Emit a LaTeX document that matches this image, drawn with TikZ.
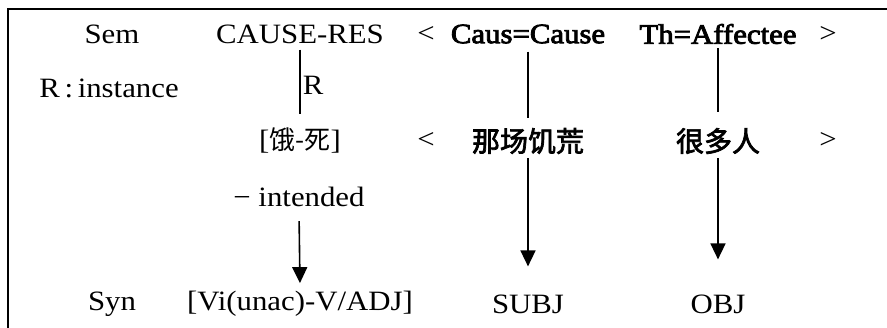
\documentclass[tikz,border=0pt]{standalone}
\usepackage{fontspec}
\setmainfont[FakeStretch=1.1]{Liberation Serif}
\newfontfamily\cjk{Noto Sans CJK SC}
\usepackage{tikz}
\usetikzlibrary{arrows.meta}

\tikzstyle{word} = [draw=none, fill=none, inner sep=4pt, font=\fontsize{28}{30}\selectfont]
\tikzstyle{role} = [word, font=\fontsize{28}{30}\selectfont\addfontfeature{FakeBold=3}]
\tikzstyle{han} = [word, font=\fontsize{28}{30}\selectfont\cjk\addfontfeature{FakeBold=2.5}]
\tikzstyle{hanlight} = [word, font=\fontsize{26}{28}\selectfont\cjk]
\tikzstyle{link} = [line width=1.6pt]
\tikzstyle{map} = [line width=1.6pt, -{Triangle[width=15pt,length=16pt]}]

\begin{document}
\begin{tikzpicture}[x=1pt, y=-1pt]
\useasboundingbox (0,0) rectangle (887,327);

% frame, open on the right and at the bottom
\draw[line width=2.4pt] (8,340) -- (8,9) -- (900,9);

% semantic row
\node[word] (sem) at (112,34) {Sem};
\node[word] (cause) at (300,34) {CAUSE-RES};
\node[word] (lt1) at (426,34) {<};
\node[role] (caus) at (528,34) {Caus=Cause};
\node[role] (th) at (718,34) {Th=Affectee};
\node[word] (gt1) at (828,34) {>};

% instance row
\node[word] (rinst) at (109,88) {R\,:\,instance};
\node[hanlight] (ehsi) at (300,140) {{\rmfamily\fontsize{28}{30}\selectfont[}饿-死{\rmfamily\fontsize{28}{30}\selectfont]}};
\node[word] (lt2) at (426,140) {<};
\node[han] (nachang) at (528,141) {那场饥荒};
\node[han] (henduo) at (718,141) {很多人};
\node[word] (gt2) at (828,140) {>};

\node[word] (intended) at (299,197) {− intended};

% syntactic row
\node[word] (syn) at (112,304) {Syn};
\node[word] (vi) at (300,304) {[Vi(unac)-V/ADJ]};
\node[word] (subj) at (528,304) {SUBJ};
\node[word] (obj) at (718,304) {OBJ};

% links
\draw[link, shorten <=2pt, shorten >=9pt] (cause.south) -- node[word, right, inner sep=2pt] (rlab) {R} (ehsi.north);
\draw[link, shorten <=4pt, shorten >=6pt] (caus.south) -- (nachang.north);
\draw[link, shorten >=12pt] (th.south) -- (henduo.north);

% mappings
\draw[map, shorten <=10pt, shorten >=4pt] (intended.south) -- (vi.north);
\draw[map, shorten >=24pt] (nachang.south) -- (subj.north);
\draw[map, shorten >=31pt] (henduo.south) -- (obj.north);

\end{tikzpicture}
\end{document}
